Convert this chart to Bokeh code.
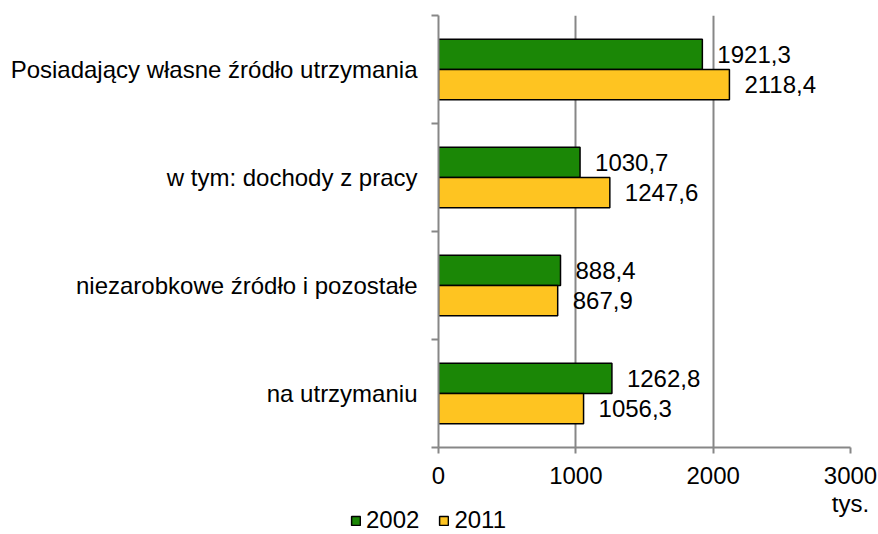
from bokeh.plotting import figure
from bokeh.models import Range1d, FixedTicker, Legend, LegendItem
from bokeh.core.properties import value
from bokeh.embed import file_html
from bokeh.resources import INLINE

categories = ["Posiadający własne źródło utrzymania", "w tym: dochody z pracy",
              "niezarobkowe źródło i pozostałe", "na utrzymaniu"]
series_names = ["2002", "2011"]
values_2002 = [1921.3, 1030.7, 888.4, 1262.8]
values_2011 = [2118.4, 1247.6, 867.9, 1056.3]
x_ticks = [0, 1000, 2000, 3000]
x_max = 3000
unit_label = "tys."

FONT = "Liberation Sans"
FS = "24px"
GREEN = "#1b8706"
YELLOW = "#fec421"
GRAY = "#878787"

W = 878
H1 = 497
H2 = 534 - H1
BL, BR, BT, BB = 438, 28, 15, 50

n = len(categories)
centers = [n - i - 0.5 for i in range(n)]
bar_h = 0.28
y_2002 = [c + bar_h / 2 for c in centers]
y_2011 = [c - bar_h / 2 for c in centers]

p = figure(width=W, height=H1, x_range=Range1d(0, x_max), y_range=Range1d(0, n),
           output_backend="svg", toolbar_location=None,
           min_border_left=BL, min_border_right=BR, min_border_top=BT, min_border_bottom=BB)
p.outline_line_color = None
p.background_fill_color = "white"
p.border_fill_color = "white"

bar_style = dict(line_color="black", line_width=1.5)
r1 = p.hbar(y=y_2002, left=0, right=values_2002, height=bar_h, fill_color=GREEN, **bar_style)
r2 = p.hbar(y=y_2011, left=0, right=values_2011, height=bar_h, fill_color=YELLOW, **bar_style)

def fmt(v):
    return f"{v:.1f}".replace(".", ",")

label_style = dict(x_offset=15, text_baseline="middle", text_align="left",
                   text_font=value(FONT), text_font_size=FS, text_color="black")
p.text(x=values_2002, y=y_2002, text=[fmt(v) for v in values_2002], **label_style)
p.text(x=values_2011, y=y_2011, text=[fmt(v) for v in values_2011], **label_style)

# x axis
xa = p.xaxis[0]
xa.ticker = FixedTicker(ticks=x_ticks)
xa.axis_line_color = GRAY
xa.axis_line_width = 2
xa.major_tick_line_color = GRAY
xa.major_tick_line_width = 2
xa.major_tick_out = 6
xa.major_tick_in = 0
xa.minor_tick_line_color = None
xa.major_label_text_font = FONT
xa.major_label_text_font_size = FS
xa.major_label_text_color = "black"
xa.major_label_standoff = 13

# y axis
ya = p.yaxis[0]
ya.ticker = FixedTicker(ticks=centers, minor_ticks=[float(i) for i in range(n + 1)])
ya.major_label_overrides = {c: cat for c, cat in zip(centers, categories)}
ya.axis_line_color = GRAY
ya.axis_line_width = 2
ya.major_tick_line_color = None
ya.major_tick_out = 0
ya.major_tick_in = 0
ya.minor_tick_line_color = GRAY
ya.minor_tick_line_width = 2
ya.minor_tick_out = 7
ya.minor_tick_in = 0
ya.major_label_text_font = FONT
ya.major_label_text_font_size = FS
ya.major_label_text_color = "black"
ya.major_label_standoff = 14

p.xgrid.ticker = FixedTicker(ticks=x_ticks)
p.xgrid.grid_line_color = GRAY
p.xgrid.grid_line_width = 2
p.ygrid.visible = False

# bottom strip (separate root): unit label and legend, on the same x scale
frame_w = W - BL - BR
upp = x_max / frame_w
p2 = figure(width=W, height=H2, x_range=Range1d(-BL * upp, x_max + BR * upp),
            y_range=Range1d(0, H2), output_backend="svg", toolbar_location=None,
            min_border=0, min_border_left=0, min_border_right=0,
            min_border_top=0, min_border_bottom=0,
            x_axis_type=None, y_axis_type=None)
p2.outline_line_color = None
p2.background_fill_color = "white"
p2.border_fill_color = "white"
p2.xgrid.visible = False
p2.ygrid.visible = False

p2.text(x=[x_max], y=[31], text=[unit_label], text_align="center",
        text_baseline="alphabetic", text_font=value(FONT), text_font_size=FS,
        text_color="black")

# legend proxies: one zero-length bar each, lying below the visible strip
d1 = p2.hbar(y=[-H2], left=[0], right=[0], height=1, fill_color=GREEN, **bar_style)
d2 = p2.hbar(y=[-H2], left=[0], right=[0], height=1, fill_color=YELLOW, **bar_style)
legend = Legend(items=[LegendItem(label=series_names[0], renderers=[d1]),
                       LegendItem(label=series_names[1], renderers=[d2])],
                orientation="horizontal", location=(350, 0),
                glyph_width=11, glyph_height=11, label_standoff=5, spacing=19,
                padding=0, margin=0, border_line_color=None, background_fill_alpha=0,
                label_text_font=FONT, label_text_font_size=FS, label_text_color="black")
p2.add_layout(legend)

open("out.html", "w").write(file_html([p, p2], INLINE))
